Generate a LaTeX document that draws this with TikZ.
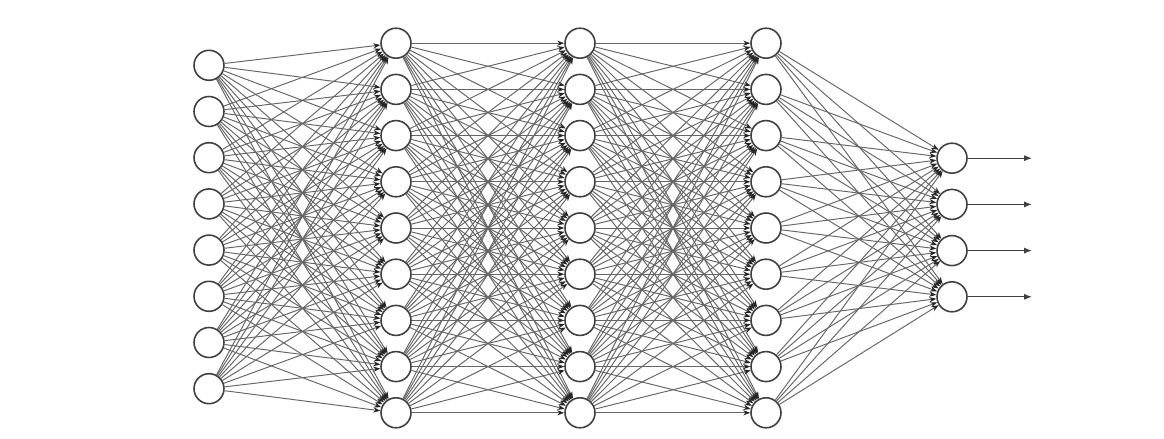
\documentclass[tikz,border=0pt]{standalone}
\usetikzlibrary{arrows.meta}

\begin{document}
\begin{tikzpicture}[
  x=0.02cm, y=-0.02cm,
  >={Stealth[length=4pt,width=3pt,black!85]},
  neuron/.style={draw=black!75,line width=0.9pt,circle,fill=white,minimum size=0.6cm,inner sep=0pt},
  link/.style={->,draw=black!60,line width=0.55pt},
  outlink/.style={-{Latex[length=4.5pt,width=3.5pt]},draw=black!75,line width=0.7pt}
]
\useasboundingbox (0,0) rectangle (1164,439);

% ---- Layers ----
\foreach \i in {1,...,8}
  \node[neuron] (in\i) at (209,{19.1+46.2*\i}) {};
\foreach \l/\x in {a/396,b/580,c/766} {
  \foreach \i in {1,...,9}
    \node[neuron] (\l\i) at (\x,{-3.0+46.2*\i}) {};
}
\foreach \i in {1,...,4} {
  \node[neuron] (out\i) at (952,{112.0+46.2*\i}) {};
  \coordinate (y\i) at (1032,{112.0+46.2*\i});
}

% ---- Connections ----
\foreach \i in {1,...,8}
  \foreach \j in {1,...,9}
    \draw[link] (in\i) -- (a\j);
\foreach \s/\t in {a/b,b/c} {
  \foreach \i in {1,...,9}
    \foreach \j in {1,...,9}
      \draw[link] (\s\i) -- (\t\j);
}
\foreach \i in {1,...,9}
  \foreach \j in {1,...,4}
    \draw[link] (c\i) -- (out\j);

% ---- Outputs ----
\foreach \i in {1,...,4}
  \draw[outlink] (out\i) -- (y\i);

\end{tikzpicture}
\end{document}
